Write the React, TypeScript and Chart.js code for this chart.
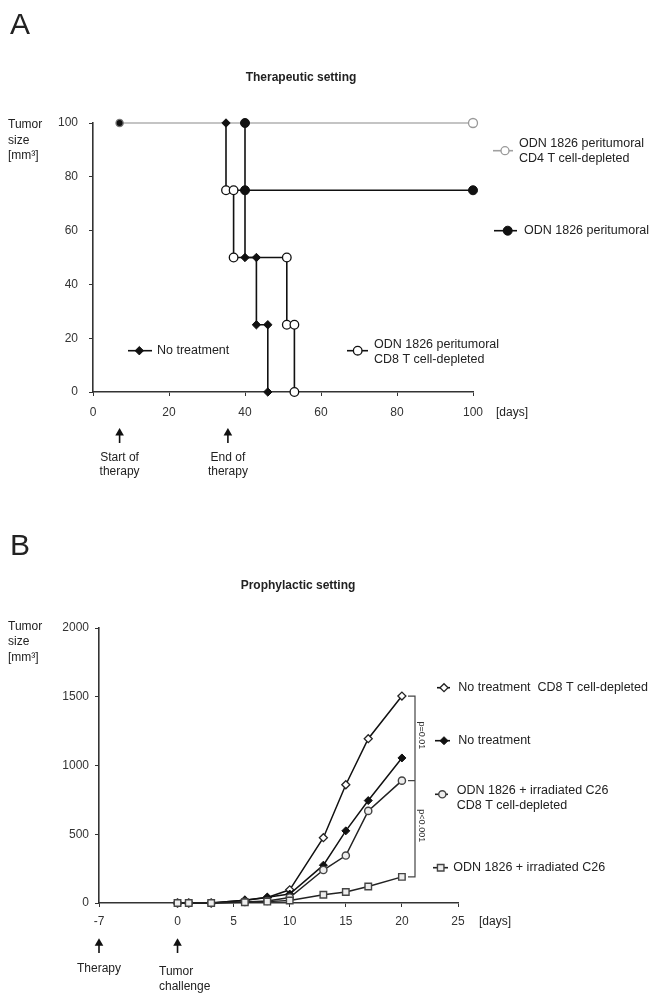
import React, { useEffect, useRef } from 'react';
import { Chart, registerables } from 'chart.js';

Chart.register(...registerables);

const FONT = '"Liberation Sans", Arial, Helvetica, sans-serif';
const INK = '#222';
const AXIS = '#333';
const LEG = `12.5px ${FONT}`;

// ---------- Panel A: Therapeutic setting ----------
const aTitle = 'Therapeutic setting';
const aYTicks = { min: 0, max: 100, step: 20 };
const aXTicks = { min: 0, max: 100, step: 20 };
const aCd4Days = [7, 100];
const aCd4Size = [100, 100];
const aOdnDays = [40, 40, 100];
const aOdnSize = [100, 75, 75];
const aNoTxDays = [35, 35, 40, 40, 43, 43, 46, 46];
const aNoTxSize = [100, 75, 75, 50, 50, 25, 25, 0];
const aCd8Days = [35, 37, 37, 51, 51, 53, 53];
const aCd8Size = [75, 75, 50, 50, 25, 25, 0];
const aArrowDays = [7, 35.5];
const aArrowLabels = [['Start of', 'therapy'], ['End of', 'therapy']];

// ---------- Panel B: Prophylactic setting ----------
const bTitle = 'Prophylactic setting';
const bDays = [0, 1, 3, 6, 8, 10, 13, 15, 17, 20];
const bNoTxCd8 = [0, 0, 0, 20, 40, 96, 475, 860, 1195, 1505];
const bNoTx = [0, 0, 0, 20, 42, 65, 275, 525, 745, 1055];
const bOdnCd8 = [0, 0, 0, 8, 15, 40, 240, 345, 670, 890];
const bOdn = [0, 0, 0, 5, 10, 18, 60, 80, 120, 190];
const bXTicks = [-7, 0, 5, 10, 15, 20, 25];
const bYTicks = { min: 0, max: 2000, step: 500 };
const bArrowDays = [-7, 0];
const bPValues = ['p=0.01', 'p<0.001'];

const yTitle = ['Tumor', 'size', '[mm\u00b3]'];

const zip = (xs: number[], ys: number[]) => xs.map((x, i) => ({ x, y: ys[i] }));

function drawMarker(ctx: CanvasRenderingContext2D, style: string, r: number, x: number, y: number, fill: string, stroke: string, bw: number) {
  ctx.save();
  ctx.fillStyle = fill;
  ctx.strokeStyle = stroke;
  ctx.lineWidth = bw;
  ctx.beginPath();
  if (style === 'circle') {
    ctx.arc(x, y, r, 0, Math.PI * 2);
  } else if (style === 'rectRot') {
    ctx.moveTo(x - r, y);
    ctx.lineTo(x, y - r);
    ctx.lineTo(x + r, y);
    ctx.lineTo(x, y + r);
    ctx.closePath();
  } else {
    const s = r * Math.SQRT1_2;
    ctx.rect(x - s, y - s, 2 * s, 2 * s);
  }
  ctx.fill();
  if (bw > 0) ctx.stroke();
  ctx.restore();
}

function legendItem(ctx: CanvasRenderingContext2D, x1: number, x2: number, mx: number, my: number, lineColor: string, style: string, r: number, fill: string, stroke: string, bw: number) {
  ctx.save();
  ctx.strokeStyle = lineColor;
  ctx.lineWidth = 1.6;
  ctx.beginPath();
  ctx.moveTo(x1, my);
  ctx.lineTo(x2, my);
  ctx.stroke();
  ctx.restore();
  drawMarker(ctx, style, r, mx, my, fill, stroke, bw);
}

function drawArrow(ctx: CanvasRenderingContext2D, x: number, tip: number, end: number) {
  ctx.save();
  ctx.fillStyle = '#111';
  ctx.strokeStyle = '#111';
  ctx.lineWidth = 1.6;
  ctx.beginPath();
  ctx.moveTo(x, tip);
  ctx.lineTo(x - 4.3, tip + 7.5);
  ctx.lineTo(x + 4.3, tip + 7.5);
  ctx.closePath();
  ctx.fill();
  ctx.beginPath();
  ctx.moveTo(x, tip + 6);
  ctx.lineTo(x, end);
  ctx.stroke();
  ctx.restore();
}

const panelAPlugin = {
  id: 'panelA',
  afterDraw(chart: any) {
    const ctx: CanvasRenderingContext2D = chart.ctx;
    const xs = chart.scales.x;
    ctx.save();
    ctx.fillStyle = INK;
    ctx.textAlign = 'left';
    ctx.textBaseline = 'alphabetic';
    ctx.font = `30px ${FONT}`;
    ctx.fillText('A', 10, 34);
    ctx.textBaseline = 'middle';
    ctx.font = `bold 12px ${FONT}`;
    ctx.textAlign = 'center';
    ctx.fillText(aTitle, 301, 78);
    ctx.font = `12px ${FONT}`;
    ctx.textAlign = 'left';
    [125, 141, 156].forEach((y, i) => ctx.fillText(yTitle[i], 8, y));
    ctx.fillText('[days]', 496, 413);
    // arrows
    aArrowDays.forEach((d, i) => {
      const x = xs.getPixelForValue(d);
      drawArrow(ctx, x, 428, 443);
      ctx.fillStyle = INK;
      ctx.textAlign = 'center';
      ctx.fillText(aArrowLabels[i][0], x, 458);
      ctx.fillText(aArrowLabels[i][1], x, 472);
    });
    ctx.textAlign = 'left';
    ctx.font = LEG;
    // legends
    legendItem(ctx, 493, 513, 505, 150.7, '#a0a0a0', 'circle', 4, '#fff', '#999', 1.3);
    ctx.fillStyle = INK;
    ctx.fillText('ODN 1826 peritumoral', 519, 143.3);
    ctx.fillText('CD4 T cell-depleted', 519, 158.3);
    legendItem(ctx, 494, 517, 507.7, 230.7, '#111', 'circle', 4.5, '#111', '#111', 1);
    ctx.fillStyle = INK;
    ctx.fillText('ODN 1826 peritumoral', 524, 230.7);
    legendItem(ctx, 347, 368, 357.7, 350.7, '#111', 'circle', 4.3, '#fff', '#111', 1.3);
    ctx.fillStyle = INK;
    ctx.fillText('ODN 1826 peritumoral', 374, 345);
    ctx.fillText('CD8 T cell-depleted', 374, 359.5);
    legendItem(ctx, 128, 152, 139.3, 350.7, '#111', 'rectRot', 4.2, '#111', '#111', 1);
    ctx.fillStyle = INK;
    ctx.fillText('No treatment', 157, 350.7);
    ctx.restore();
  },
};

const panelBPlugin = {
  id: 'panelB',
  afterDraw(chart: any) {
    const ctx: CanvasRenderingContext2D = chart.ctx;
    const xs = chart.scales.x;
    const ys = chart.scales.y;
    ctx.save();
    ctx.fillStyle = INK;
    ctx.textAlign = 'left';
    ctx.textBaseline = 'alphabetic';
    ctx.font = `30px ${FONT}`;
    ctx.fillText('B', 10, 55);
    ctx.textBaseline = 'middle';
    ctx.font = `bold 12px ${FONT}`;
    ctx.textAlign = 'center';
    ctx.fillText(bTitle, 298, 86);
    ctx.font = `12px ${FONT}`;
    ctx.textAlign = 'left';
    [127, 142, 158].forEach((y, i) => ctx.fillText(yTitle[i], 8, y));
    ctx.fillText('[days]', 479, 421.7);
    // arrows
    const x0 = xs.getPixelForValue(bArrowDays[0]);
    const x1 = xs.getPixelForValue(bArrowDays[1]);
    drawArrow(ctx, x0, 438.3, 453);
    drawArrow(ctx, x1, 438.3, 453);
    ctx.fillStyle = INK;
    ctx.textAlign = 'center';
    ctx.fillText('Therapy', x0, 468.3);
    ctx.textAlign = 'left';
    ctx.fillText('Tumor', 159, 471.7);
    ctx.fillText('challenge', 159, 486.7);
    // brackets
    const last = bDays.length - 1;
    const yTop = ys.getPixelForValue(bNoTxCd8[last]);
    const yMid = ys.getPixelForValue(bOdnCd8[last]);
    const yBot = ys.getPixelForValue(bOdn[last]);
    ctx.strokeStyle = '#444';
    ctx.lineWidth = 1.2;
    ctx.beginPath();
    ctx.moveTo(408, yTop);
    ctx.lineTo(415, yTop);
    ctx.lineTo(415, yBot);
    ctx.lineTo(408, yBot);
    ctx.moveTo(408, yMid);
    ctx.lineTo(415, yMid);
    ctx.stroke();
    ctx.font = `9px ${FONT}`;
    ctx.fillStyle = '#333';
    [[yTop, yMid], [yMid, yBot]].forEach(([a, b], i) => {
      ctx.save();
      ctx.translate(421.5, (a + b) / 2 - 3);
      ctx.rotate(Math.PI / 2);
      ctx.textAlign = 'center';
      ctx.textBaseline = 'middle';
      ctx.fillText(bPValues[i], 0, 0);
      ctx.restore();
    });
    ctx.font = LEG;
    ctx.textAlign = 'left';
    ctx.textBaseline = 'middle';
    // legends
    legendItem(ctx, 437, 450, 444, 187.7, '#111', 'rectRot', 4, '#fff', '#222', 1.3);
    ctx.fillStyle = INK;
    ctx.fillText('No treatment  CD8 T cell-depleted', 458.3, 187.7);
    legendItem(ctx, 435, 450, 444, 240.7, '#111', 'rectRot', 4, '#111', '#111', 1);
    ctx.fillStyle = INK;
    ctx.fillText('No treatment', 458.3, 240.7);
    legendItem(ctx, 435, 448, 442.3, 294.3, '#222', 'circle', 3.6, '#eee', '#444', 1.4);
    ctx.fillStyle = INK;
    ctx.fillText('ODN 1826 + irradiated C26', 456.7, 290.7);
    ctx.fillText('CD8 T cell-depleted', 456.7, 305.7);
    legendItem(ctx, 433, 448, 440.7, 367.7, '#222', 'rect', 4.6, '#eee', '#444', 1.4);
    ctx.fillStyle = INK;
    ctx.fillText('ODN 1826 + irradiated C26', 453.3, 367.7);
    ctx.restore();
  },
};

function axisOpts(extra: any) {
  return {
    type: 'linear',
    grid: { display: true, drawOnChartArea: false, drawTicks: true, tickLength: 4, color: AXIS, lineWidth: 1 },
    border: { display: true, color: AXIS, width: 1.6 },
    ...extra,
  };
}

const plainTick = (v: any) => String(v);

function makeA(canvas: HTMLCanvasElement) {
  return new Chart(canvas, {
    type: 'line',
    data: {
      datasets: [
        {
          label: 'ODN 1826 peritumoral',
          data: zip(aOdnDays, aOdnSize),
          borderColor: '#111', borderWidth: 1.6,
          pointStyle: 'circle', pointRadius: 4.5,
          pointBackgroundColor: '#111', pointBorderColor: '#111', pointBorderWidth: 1,
          order: 0, clip: false,
        },
        {
          label: 'ODN 1826 peritumoral CD8 T cell-depleted',
          data: zip(aCd8Days, aCd8Size),
          borderColor: '#111', borderWidth: 1.6,
          pointStyle: 'circle', pointRadius: 4.3,
          pointBackgroundColor: '#fff', pointBorderColor: '#111', pointBorderWidth: 1.3,
          order: 1, clip: false,
        },
        {
          label: 'No treatment',
          data: zip(aNoTxDays, aNoTxSize),
          borderColor: '#111', borderWidth: 1.6,
          pointStyle: 'rectRot', pointRadius: [4.2, 0, 0, 4.2, 4.2, 4.2, 4.2, 4.2],
          pointBackgroundColor: '#111', pointBorderColor: '#111', pointBorderWidth: 1,
          order: 2, clip: false,
        },
        {
          label: 'ODN 1826 peritumoral CD4 T cell-depleted',
          data: zip(aCd4Days, aCd4Size),
          borderColor: '#b0b0b0', borderWidth: 1.6,
          pointStyle: 'circle', pointRadius: [3.6, 4.5],
          pointBackgroundColor: ['#111', '#fff'], pointBorderColor: ['#777', '#999'], pointBorderWidth: 1.3,
          order: 3, clip: false,
        },
      ],
    } as any,
    options: {
      responsive: false,
      animation: false,
      events: [],
      layout: { padding: { left: 0, right: 179, top: 123, bottom: 78 } },
      plugins: { legend: { display: false }, tooltip: { enabled: false }, title: { display: false } },
      elements: { line: { tension: 0 } },
      scales: {
        x: axisOpts({
          min: aXTicks.min, max: aXTicks.max,
          ticks: { stepSize: aXTicks.step, color: '#333', font: { family: FONT, size: 12 }, padding: 9.5, maxRotation: 0, callback: plainTick },
          afterFit: (s: any) => { s.height = 30; s.paddingLeft = 0; s.paddingRight = 0; },
        }),
        y: axisOpts({
          min: aYTicks.min, max: aYTicks.max,
          ticks: { stepSize: aYTicks.step, color: '#333', font: { family: FONT, size: 12 }, padding: 11, callback: plainTick },
          afterFit: (s: any) => { s.width = 93; s.paddingTop = 0; s.paddingBottom = 0; },
        }),
      },
    } as any,
    plugins: [panelAPlugin as any],
  });
}

function makeB(canvas: HTMLCanvasElement) {
  return new Chart(canvas, {
    type: 'line',
    data: {
      datasets: [
        {
          label: 'ODN 1826 + irradiated C26',
          data: zip(bDays, bOdn),
          borderColor: '#222', borderWidth: 1.5,
          pointStyle: 'rect', pointRadius: 4.6,
          pointBackgroundColor: '#eee', pointBorderColor: '#444', pointBorderWidth: 1.4,
          order: 0, clip: false,
        },
        {
          label: 'ODN 1826 + irradiated C26 CD8 T cell-depleted',
          data: zip(bDays, bOdnCd8),
          borderColor: '#222', borderWidth: 1.5,
          pointStyle: 'circle', pointRadius: 3.6,
          pointBackgroundColor: '#eee', pointBorderColor: '#444', pointBorderWidth: 1.4,
          order: 1, clip: false,
        },
        {
          label: 'No treatment',
          data: zip(bDays, bNoTx),
          borderColor: '#111', borderWidth: 1.5,
          pointStyle: 'rectRot', pointRadius: 4,
          pointBackgroundColor: '#111', pointBorderColor: '#111', pointBorderWidth: 1,
          order: 2, clip: false,
        },
        {
          label: 'No treatment CD8 T cell-depleted',
          data: zip(bDays, bNoTxCd8),
          borderColor: '#111', borderWidth: 1.5,
          pointStyle: 'rectRot', pointRadius: 4,
          pointBackgroundColor: '#fff', pointBorderColor: '#222', pointBorderWidth: 1.3,
          order: 3, clip: false,
        },
      ],
    } as any,
    options: {
      responsive: false,
      animation: false,
      events: [],
      layout: { padding: { left: 0, right: 194, top: 128, bottom: 61 } },
      plugins: { legend: { display: false }, tooltip: { enabled: false }, title: { display: false } },
      elements: { line: { tension: 0 } },
      scales: {
        x: axisOpts({
          min: bXTicks[0], max: bXTicks[bXTicks.length - 1],
          afterBuildTicks: (s: any) => { s.ticks = bXTicks.map((v) => ({ value: v })); },
          ticks: { color: '#333', font: { family: FONT, size: 12 }, padding: 7, maxRotation: 0, callback: plainTick },
          afterFit: (s: any) => { s.height = 30; s.paddingLeft = 0; s.paddingRight = 0; },
        }),
        y: axisOpts({
          min: bYTicks.min, max: bYTicks.max,
          ticks: { stepSize: bYTicks.step, color: '#333', font: { family: FONT, size: 12 }, padding: 6, callback: plainTick },
          afterFit: (s: any) => { s.width = 99; s.paddingTop = 0; s.paddingBottom = 0; },
        }),
      },
    } as any,
    plugins: [panelBPlugin as any],
  });
}

export default function App() {
  const refA = useRef<HTMLCanvasElement>(null);
  const refB = useRef<HTMLCanvasElement>(null);
  useEffect(() => {
    const a = makeA(refA.current!);
    const b = makeB(refB.current!);
    return () => {
      a.destroy();
      b.destroy();
    };
  }, []);
  return (
    <div style={{ position: 'absolute', left: 0, top: 0, width: 652, height: 994, background: '#fff' }}>
      <canvas ref={refA} width={652} height={500} style={{ position: 'absolute', left: 0, top: 0, width: 652, height: 500 }} />
      <canvas ref={refB} width={652} height={494} style={{ position: 'absolute', left: 0, top: 500, width: 652, height: 494 }} />
    </div>
  );
}
